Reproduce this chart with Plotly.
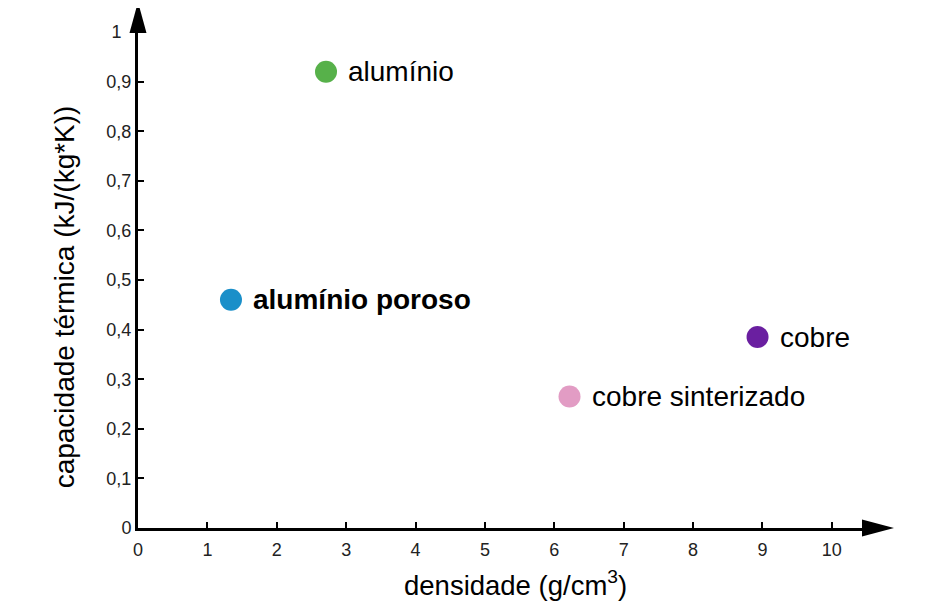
import plotly.graph_objects as go

# materiais: densidade (g/cm3) vs capacidade térmica (kJ/(kg*K))
materiais = ["alumínio", "alumínio poroso", "cobre", "cobre sinterizado"]
densidade = [2.71, 1.34, 8.93, 6.22]
capacidade = [0.92, 0.46, 0.385, 0.265]
cores = ["#57b14a", "#1a8fc9", "#6a1fa0", "#e29cc4"]
negrito = [False, True, False, False]

ticks_x = list(range(11))
ticks_y = [i / 10 for i in range(11)]
rotulos_y = ["0", "0,1", "0,2", "0,3", "0,4", "0,5", "0,6", "0,7", "0,8", "0,9",
             "1\u00a0\u00a0"]  # o "1" fica afastado da seta

titulo_x = "densidade (g/cm<sup>3</sup>)"
titulo_y = "capacidade térmica (kJ/(kg*K))"

fonte = "Liberation Sans, Arial, sans-serif"

fig = go.Figure()
fig.add_trace(go.Scatter(
    x=densidade, y=capacidade, mode="markers",
    marker=dict(size=22, color=cores, line=dict(width=0)),
    hoverinfo="skip", showlegend=False, cliponaxis=False,
))

# rótulos ao lado dos pontos
for nome, x, y, b in zip(materiais, densidade, capacidade, negrito):
    fig.add_annotation(
        x=x, y=y, xref="x", yref="y", text=f"<b>{nome}</b>" if b else nome,
        showarrow=False, xanchor="left", yanchor="middle", xshift=20,
        font=dict(size=28, color="black", family=fonte),
    )

# títulos dos eixos como anotações (posição livre)
fig.add_annotation(x=0.521, y=0, xref="paper", yref="paper", text=titulo_x,
                   showarrow=False, xanchor="center", yanchor="middle", yshift=-55,
                   font=dict(size=27.5, color="black", family=fonte))
fig.add_annotation(x=0, y=0.465, xref="paper", yref="paper", text=titulo_y,
                   showarrow=False, textangle=-90, xanchor="center", yanchor="middle",
                   xshift=-74, font=dict(size=28, color="black", family=fonte))

# setas nos eixos (em coordenadas do papel, para não serem cortadas)
fig.add_shape(type="path", xref="paper", yref="paper", xsizemode="pixel", ysizemode="pixel",
              xanchor=1, yanchor=0, path="M -1,-8.5 L 31,0 L -1,8.5 Z",
              fillcolor="black", line=dict(width=0), layer="above")
fig.add_shape(type="path", xref="paper", yref="paper", xsizemode="pixel", ysizemode="pixel",
              xanchor=0, yanchor=1, path="M -8.5,-1 L 0,30 L 8.5,-1 Z",
              fillcolor="black", line=dict(width=0), layer="above")

fig.update_layout(
    width=938, height=604,
    margin=dict(l=130, r=83, t=24, b=84),
    paper_bgcolor="white", plot_bgcolor="white",
    font=dict(family=fonte, color="black"),
    xaxis=dict(
        range=[0, 10.45], tickvals=ticks_x, showgrid=False, zeroline=False,
        showline=True, linewidth=3, linecolor="black",
        ticks="inside", ticklen=6, tickwidth=2, tickcolor="black",
        tickfont=dict(size=18, color="#222"), ticklabelstandoff=3,
    ),
    yaxis=dict(
        range=[0, 1], tickvals=ticks_y, ticktext=rotulos_y, showgrid=False, zeroline=False,
        showline=True, linewidth=3, linecolor="black",
        ticks="inside", ticklen=6, tickwidth=2, tickcolor="black",
        tickfont=dict(size=18, color="#222"),
    ),
)

fig.write_html("out.html")
